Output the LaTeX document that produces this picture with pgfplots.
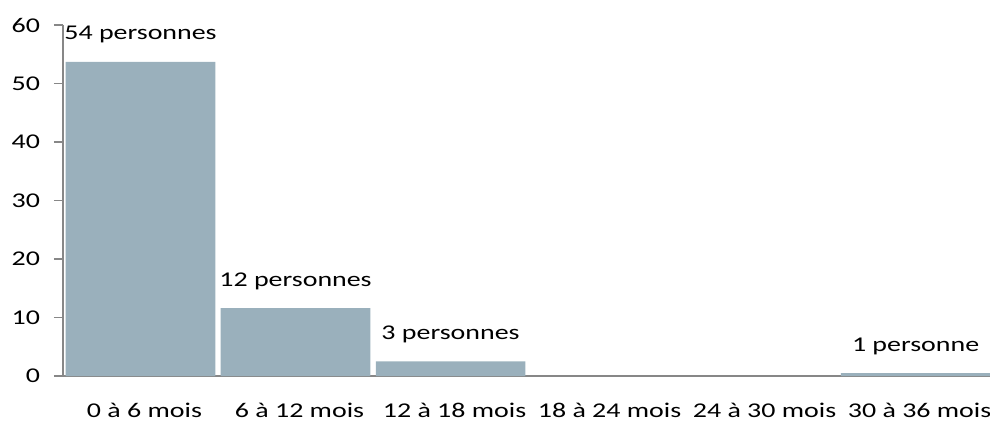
\documentclass[border=0pt]{standalone}
\usepackage{fontspec}
\setmainfont{Carlito}
\usepackage{pgfplots}
\pgfplotsset{compat=1.18}
\definecolor{barcol}{HTML}{9AB0BC}
\definecolor{axcol}{HTML}{878787}
\begin{document}
\begin{tikzpicture}
\begin{axis}[
 scale only axis, width=927pt, height=351pt,
 xmin=-0.5, xmax=5.48, ymin=0, ymax=60,
 axis x line=bottom, axis y line=left,
 axis line style={-, draw=axcol, line width=1.5pt},
 xtick={0,...,5},
 xticklabels={0 à 6 mois, 6 à 12 mois, 12 à 18 mois, 18 à 24 mois, 24 à 30 mois, 30 à 36 mois},
 ytick={0,10,...,60},
 x tick style={draw=none},
 y tick style={draw=axcol, line width=1.5pt},
 tick align=outside, major tick length=9pt,
 tick label style={font=\fontsize{21}{25}\selectfont, xscale=1.33, text=black},
 xticklabel style={anchor=base, yshift=-32pt, xshift=3pt},
 yticklabel style={anchor=east, xshift=-7pt},
 /pgf/number format/assume math mode=true,
 clip=false,
 ybar, bar width=0.965,
]
\addplot[fill=barcol, draw=none, nodes near coords, point meta=explicit symbolic,
  every node near coord/.style={anchor=base, yshift=22pt, font=\fontsize{21}{25}\selectfont, xscale=1.33, text=black}]
  coordinates {(0,53.7)[54 personnes] (1,11.6)[12 personnes] (2,2.5)[3 personnes] (5,0.5)[1 personne]};
\end{axis}
\pgfresetboundingbox
\path[use as bounding box] (-63pt,-45pt) rectangle (927pt,376pt);
\end{tikzpicture}
\end{document}
